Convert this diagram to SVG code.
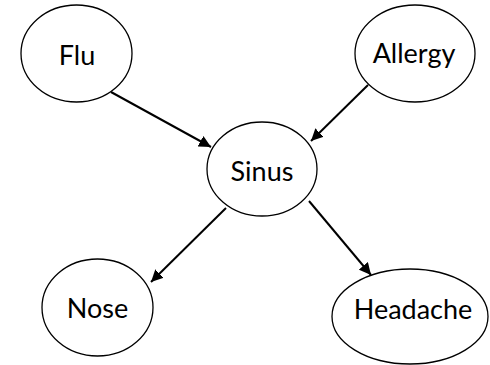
<svg xmlns="http://www.w3.org/2000/svg" width="490" height="365" viewBox="0 0 490 365">
<style>
.node{fill:#fff;stroke:#000;stroke-width:1.3}
.lbl{font-family:Lato,"Open Sans",sans-serif;font-size:27px;fill:#000;text-anchor:middle}
.edge{stroke:#000;stroke-width:2;fill:none;marker-end:url(#ah)}
</style>
<defs>
<marker id="ah" viewBox="0 0 10 10" refX="10" refY="5" markerWidth="6" markerHeight="6" markerUnits="strokeWidth" orient="auto">
<path d="M0,0 L10,5 L0,10 z" fill="#000"/>
</marker>
</defs>
<rect width="490" height="365" fill="#fff"/>
<g id="edges">
<line class="edge" x1="111" y1="92" x2="211" y2="147"/>
<line class="edge" x1="368" y1="85" x2="311" y2="141"/>
<line class="edge" x1="226" y1="208" x2="151" y2="282"/>
<line class="edge" x1="309" y1="201" x2="371" y2="275"/>
</g>
<g id="flu"><ellipse class="node" cx="76.5" cy="53.5" rx="55.5" ry="48.5"/><text class="lbl" x="77" y="65">Flu</text></g>
<g id="allergy"><ellipse class="node" cx="415" cy="53.5" rx="60" ry="48.5"/><text class="lbl" x="414" y="63">Allergy</text></g>
<g id="sinus"><ellipse class="node" cx="262" cy="169" rx="55" ry="47"/><text class="lbl" x="262" y="181">Sinus</text></g>
<g id="nose"><ellipse class="node" cx="97.5" cy="307.5" rx="55.5" ry="48.5"/><text class="lbl" x="97.5" y="318">Nose</text></g>
<g id="headache"><ellipse class="node" cx="410" cy="316.5" rx="78" ry="47.5"/><text class="lbl" x="413" y="319">Headache</text></g>
</svg>
